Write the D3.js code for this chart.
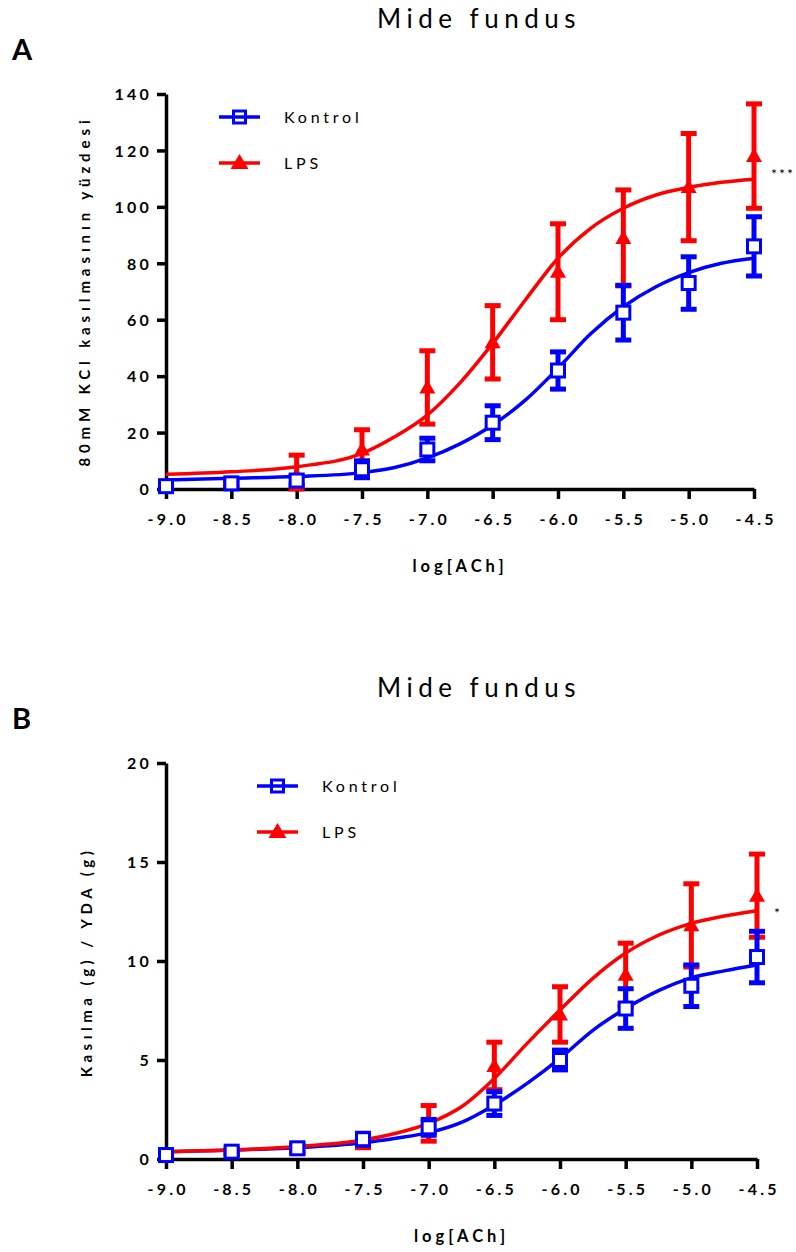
<!DOCTYPE html>
<html>
<head>
<meta charset="utf-8">
<script src="https://cdn.jsdelivr.net/npm/d3@7"></script>
<style>
body { margin: 0; background: #fff; }
svg { display: block; }
</style>
</head>
<body>
<svg id="chart" width="796" height="1252"></svg>
<script>
// doses (x) and tick labels
var logDose = [-9.0, -8.5, -8.0, -7.5, -7.0, -6.5, -6.0, -5.5, -5.0, -4.5];
var curveX = [-9.0, -8.5, -8.0, -7.5, -7.25, -7.0, -6.75, -6.5, -6.25, -6.0, -5.75, -5.5, -5.25, -5.0, -4.75, -4.5];

// panel A: % of 80mM KCl contraction
var aKontrolMean = [1, 2, 3, 7, 14, 23.5, 42, 62.5, 73, 86];
var aKontrolSem  = [1, 1, 1.5, 3, 4, 6, 6.6, 9.7, 9.3, 10.5];
var aLpsMean = [1, 2, 5, 14, 36, 52, 77, 89, 107, 118];
var aLpsSem  = [1, 1, 7, 7, 13, 13, 17, 17, 19, 18.5];
var aKontrolCurve = [3.2, 3.8, 4.4, 5.8, 7.6, 11, 16, 22.7, 31.5, 42.8, 55, 64.6, 71.7, 76.7, 80, 81.8];
var aLpsCurve = [5.2, 6.1, 7.9, 12.6, 18.5, 26.2, 37.6, 51.6, 67, 81.8, 92.4, 99.5, 104.2, 106.9, 108.7, 109.8];
var aYTicks = [0, 20, 40, 60, 80, 100, 120, 140];

// panel B: contraction (g) / wet tissue weight (g)
var bKontrolMean = [0.2, 0.37, 0.54, 1.0, 1.6, 2.8, 5.0, 7.6, 8.75, 10.2];
var bKontrolSem  = [0.15, 0.15, 0.2, 0.3, 0.4, 0.6, 0.5, 1.0, 1.05, 1.3];
var bLpsMean = [0.2, 0.3, 0.5, 0.87, 1.8, 4.7, 7.3, 9.3, 11.8, 13.3];
var bLpsSem  = [0.1, 0.1, 0.2, 0.3, 0.9, 1.2, 1.4, 1.6, 2.1, 2.1];
var bKontrolCurve = [0.37, 0.45, 0.57, 0.82, 1.05, 1.33, 1.85, 2.73, 3.82, 5.08, 6.5, 7.6, 8.5, 9.15, 9.5, 9.8];
var bLpsCurve = [0.37, 0.45, 0.63, 0.96, 1.3, 1.8, 2.64, 4.07, 5.84, 7.52, 9.12, 10.4, 11.3, 11.9, 12.27, 12.54];
var bYTicks = [0, 5, 10, 15, 20];

var seriesNames = ["Kontrol", "LPS"];

var svg = d3.select("#chart");
var font = "Lato, 'Open Sans', sans-serif";
var blue = "#0000ff", red = "#ff0000";

function drawPanel(p) {
	var x = d3.scaleLinear().domain([-9, -4.5]).range([p.left, p.right]);
	var y = d3.scaleLinear().domain([0, p.yMax]).range([p.bottom, p.top]);
	var g = svg.append("g");

	// panel letter and title
	g.append("text").attr("x", 12).attr("y", p.top - 34)
		.attr("font-family", font).attr("font-weight", "bold").attr("font-size", 29)
		.text(p.letter);
	g.append("text").attr("x", 479).attr("y", p.top - 66)
		.attr("text-anchor", "middle").attr("font-family", font).attr("font-size", 26)
		.attr("letter-spacing", 5.5)
		.text("Mide fundus");

	// axes
	var xAxis = g.append("g").attr("transform", "translate(0," + p.bottom + ")")
		.call(d3.axisBottom(x).tickValues(logDose).tickSize(10).tickSizeOuter(0)
			.tickFormat(function(d) { return d.toFixed(1); }));
	var yAxis = g.append("g").attr("transform", "translate(" + p.left + ",0)")
		.call(d3.axisLeft(y).tickValues(p.yTicks).tickSize(9).tickSizeOuter(0));
	[xAxis, yAxis].forEach(function(a) {
		a.select(".domain").attr("stroke", "#000").attr("stroke-width", 3.5);
		a.selectAll(".tick line").attr("stroke", "#000").attr("stroke-width", 3.5);
		a.selectAll(".tick text").attr("font-family", font).attr("font-weight", "bold")
			.attr("font-size", 16).attr("fill", "#000").attr("letter-spacing", 3.2);
	});
	xAxis.selectAll(".tick text").attr("y", 25).attr("dx", "0.1em");
	yAxis.selectAll(".tick text").attr("x", -14).attr("dy", "0.36em");

	g.append("text").attr("x", (p.left + p.right) / 2).attr("y", p.bottom + 83)
		.attr("text-anchor", "middle").attr("font-family", font).attr("font-weight", "bold")
		.attr("font-size", 16.5).attr("letter-spacing", 4)
		.text("log[ACh]");
	g.append("text")
		.attr("transform", "translate(" + p.yTitleX + "," + p.yTitleY + ") rotate(-90)")
		.attr("text-anchor", "middle").attr("font-family", font).attr("font-weight", "bold")
		.attr("font-size", 15).attr("letter-spacing", p.yTitleSpacing)
		.text(p.yTitle);

	// fitted curves
	var line = d3.line()
		.x(function(d, i) { return x(curveX[i]); })
		.y(function(d) { return y(d); })
		.curve(d3.curveMonotoneX);
	g.append("path").datum(p.kontrolCurve).attr("d", line)
		.attr("fill", "none").attr("stroke", blue).attr("stroke-width", 3.5);
	g.append("path").datum(p.lpsCurve).attr("d", line)
		.attr("fill", "none").attr("stroke", red).attr("stroke-width", 3.5);

	// error bars + markers
	function errorBars(mean, sem, color) {
		var eb = g.append("g").attr("stroke", color).attr("stroke-width", 5);
		logDose.forEach(function(d, i) {
			var cx = x(d), y1 = y(mean[i] + sem[i]), y0 = y(Math.max(0, mean[i] - sem[i]));
			eb.append("line").attr("x1", cx).attr("x2", cx).attr("y1", y1).attr("y2", y0);
			eb.append("line").attr("x1", cx - 8).attr("x2", cx + 8).attr("y1", y1).attr("y2", y1);
			eb.append("line").attr("x1", cx - 8).attr("x2", cx + 8).attr("y1", y0).attr("y2", y0);
		});
	}
	errorBars(p.lpsMean, p.lpsSem, red);
	g.selectAll(".tri").data(p.lpsMean).enter().append("path")
		.attr("d", "M0,-8L8,6L-8,6Z")
		.attr("transform", function(d, i) { return "translate(" + x(logDose[i]) + "," + y(d) + ")"; })
		.attr("fill", red);
	errorBars(p.kontrolMean, p.kontrolSem, blue);
	g.selectAll(".sq").data(p.kontrolMean).enter().append("rect")
		.attr("x", function(d, i) { return x(logDose[i]) - 6.5; })
		.attr("y", function(d) { return y(d) - 6.5; })
		.attr("width", 13).attr("height", 13)
		.attr("fill", "#fff").attr("stroke", blue).attr("stroke-width", 3);

	// significance mark
	g.append("text").attr("x", p.right + 17).attr("y", y(p.lpsCurve[p.lpsCurve.length - 1]) + p.starDy)
		.attr("font-family", font).attr("font-size", 14).attr("letter-spacing", 2)
		.text(p.star);

	// legend
	seriesNames.forEach(function(name, i) {
		var ly = p.legendY + i * 46, lx = p.legendX;
		var color = i === 0 ? blue : red;
		g.append("line").attr("x1", lx).attr("x2", lx + 41).attr("y1", ly).attr("y2", ly)
			.attr("stroke", color).attr("stroke-width", 3.5);
		if (i === 0) {
			g.append("rect").attr("x", lx + 20.5 - 6).attr("y", ly - 6).attr("width", 12).attr("height", 12)
				.attr("fill", "none").attr("stroke", color).attr("stroke-width", 3);
		} else {
			g.append("path").attr("d", "M0,-9L9,6L-9,6Z")
				.attr("transform", "translate(" + (lx + 20.5) + "," + ly + ")").attr("fill", color);
		}
		g.append("text").attr("x", lx + 65).attr("y", ly).attr("dy", "0.36em")
			.attr("font-family", font).attr("font-size", 16).attr("letter-spacing", 3.8)
			.text(name);
	});
}

drawPanel({
	letter: "A", top: 94, bottom: 489, left: 166, right: 754, yMax: 140, yTicks: aYTicks,
	yTitle: "80mM KCl kasılmasının yüzdesi", yTitleX: 90, yTitleY: 291, yTitleSpacing: 4.9,
	kontrolMean: aKontrolMean, kontrolSem: aKontrolSem, lpsMean: aLpsMean, lpsSem: aLpsSem,
	kontrolCurve: aKontrolCurve, lpsCurve: aLpsCurve, star: "***", starDy: 0,
	legendX: 219, legendY: 117
});
drawPanel({
	letter: "B", top: 763, bottom: 1159, left: 166, right: 757, yMax: 20, yTicks: bYTicks,
	yTitle: "Kasılma (g) / YDA (g)", yTitleX: 92, yTitleY: 962, yTitleSpacing: 4.5,
	kontrolMean: bKontrolMean, kontrolSem: bKontrolSem, lpsMean: bLpsMean, lpsSem: bLpsSem,
	kontrolCurve: bKontrolCurve, lpsCurve: bLpsCurve, star: "*", starDy: 7,
	legendX: 257, legendY: 786
});
</script>
</body>
</html>
